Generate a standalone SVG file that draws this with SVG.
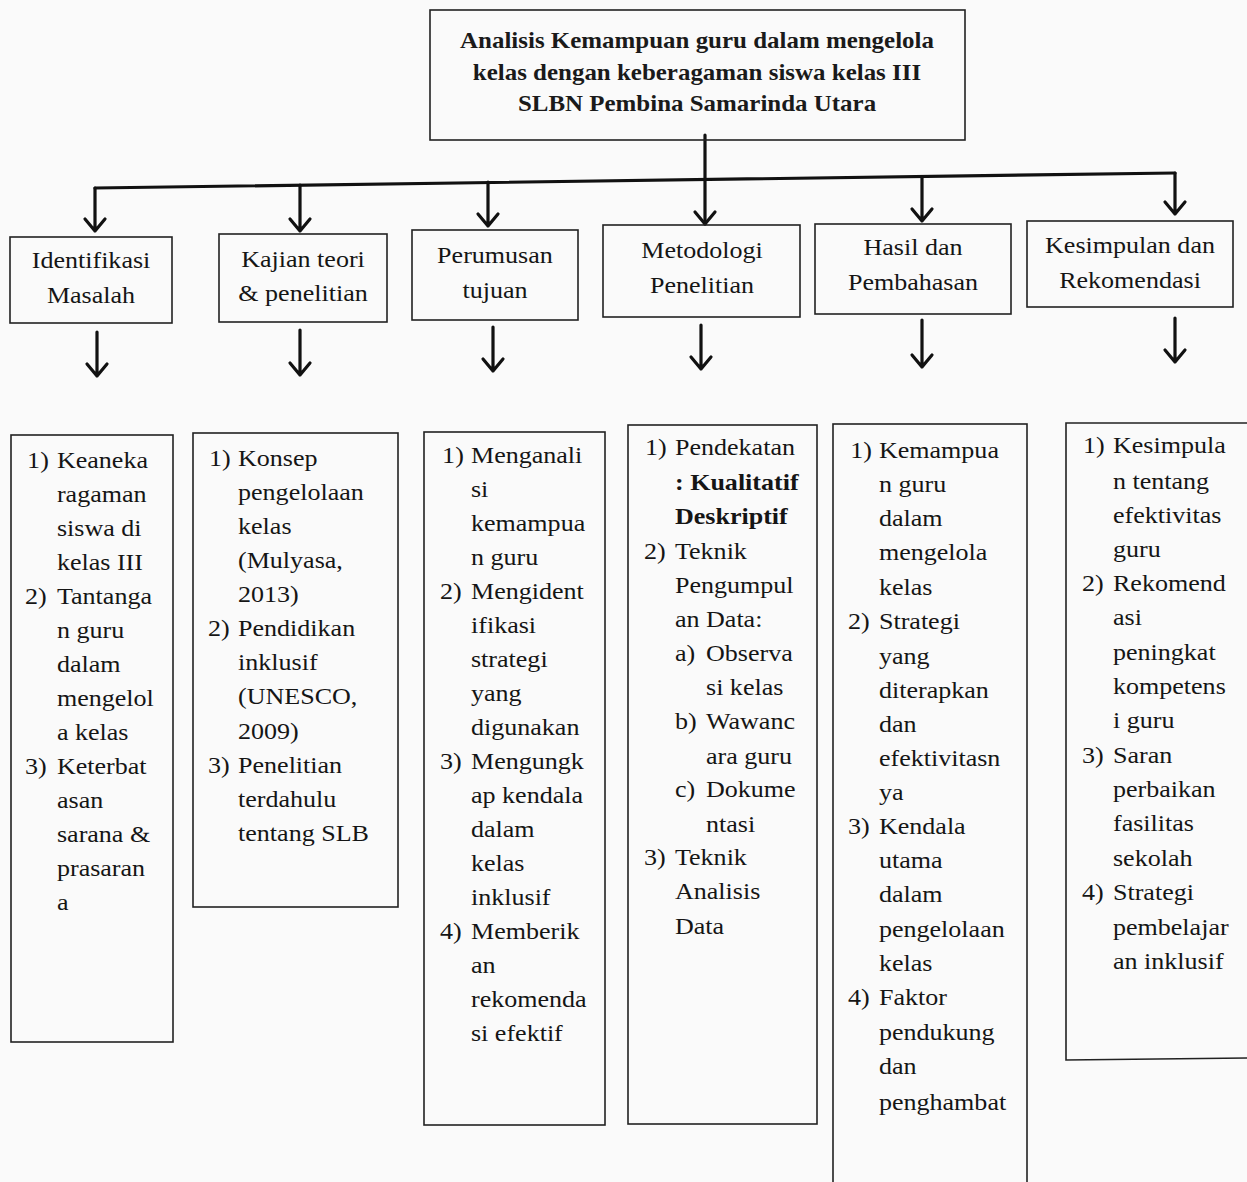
<svg xmlns="http://www.w3.org/2000/svg" width="1247" height="1182" viewBox="0 0 1247 1182">
<style>
.box{fill:none;stroke:#222;stroke-width:1.6}
.t{font-family:"Liberation Serif","Times New Roman",serif;font-size:24px;fill:#151515}
.h{font-family:"Liberation Serif","Times New Roman",serif;font-size:24px;fill:#151515;text-anchor:middle}
.top{font-family:"Liberation Serif","Times New Roman",serif;font-size:23px;font-weight:bold;fill:#1a1a1a;text-anchor:middle}
.b{font-weight:bold}
.c{fill:none;stroke:#111;stroke-width:3.2;stroke-linecap:round;stroke-linejoin:round}
</style>
<rect width="1247" height="1182" fill="#fafafa"/>

<g id="connectors">
<path class="c" d="M705 135 L705 224"/>
<path class="c" d="M95 188 L1175 173"/>
<path class="c" d="M95 188 L95 231 M85 219 L95 231 L105 219"/>
<path class="c" d="M300 185 L300 231 M290 219 L300 231 L310 219"/>
<path class="c" d="M488 182 L488 226 M478 214 L488 226 L498 214"/>
<path class="c" d="M695 212 L705 224 L715 212"/>
<path class="c" d="M922 177 L922 221 M912 209 L922 221 L932 209"/>
<path class="c" d="M1175 173 L1175 214 M1165 202 L1175 214 L1185 202"/>
<path class="c" d="M97 332 L97 376 M87 364 L97 376 L107 364"/>
<path class="c" d="M300 330 L300 375 M290 363 L300 375 L310 363"/>
<path class="c" d="M493 327 L493 371 M483 359 L493 371 L503 359"/>
<path class="c" d="M701 325 L701 369 M691 357 L701 369 L711 357"/>
<path class="c" d="M922 320 L922 367 M912 355 L922 367 L932 355"/>
<path class="c" d="M1175 318 L1175 362 M1165 350 L1175 362 L1185 350"/>
</g>

<g id="title">
<rect class="box" x="430" y="10" width="535" height="130"/>
<g transform="scale(1.085 1)">
<text class="top" x="642.4" y="48">Analisis Kemampuan guru dalam mengelola</text>
<text class="top" x="642.4" y="80">kelas dengan keberagaman siswa kelas III</text>
<text class="top" x="642.4" y="111">SLBN Pembina Samarinda Utara</text>
</g>
</g>

<g id="identifikasi">
<rect class="box" x="10" y="237" width="162" height="86"/>
<g transform="scale(1.085 1)">
<text class="h" x="83.9" y="268">Identifikasi</text>
<text class="h" x="83.9" y="303">Masalah</text>
</g>
</g>
<g id="kajian">
<rect class="box" x="219" y="234" width="168" height="88"/>
<g transform="scale(1.085 1)">
<text class="h" x="279.3" y="267">Kajian teori</text>
<text class="h" x="279.3" y="301">&amp; penelitian</text>
</g>
</g>
<g id="perumusan">
<rect class="box" x="412" y="230" width="166" height="90"/>
<g transform="scale(1.085 1)">
<text class="h" x="456.2" y="263">Perumusan</text>
<text class="h" x="456.2" y="298">tujuan</text>
</g>
</g>
<g id="metodologi">
<rect class="box" x="603" y="225" width="197" height="92"/>
<g transform="scale(1.085 1)">
<text class="h" x="647" y="258">Metodologi</text>
<text class="h" x="647" y="293">Penelitian</text>
</g>
</g>
<g id="hasil">
<rect class="box" x="815" y="224" width="196" height="90"/>
<g transform="scale(1.085 1)">
<text class="h" x="841.5" y="255">Hasil dan</text>
<text class="h" x="841.5" y="290">Pembahasan</text>
</g>
</g>
<g id="kesimpulan">
<rect class="box" x="1027" y="221" width="206" height="86"/>
<g transform="scale(1.085 1)">
<text class="h" x="1041.5" y="253">Kesimpulan dan</text>
<text class="h" x="1041.5" y="288">Rekomendasi</text>
</g>
</g>

<g id="list-identifikasi">
<rect class="box" x="11" y="435" width="162" height="607"/>
<g transform="scale(1.085 1)">
<text class="t" x="25" y="468">1)</text><text class="t" x="52.5" y="468">Keaneka</text>
<text class="t" x="52.5" y="502">ragaman</text>
<text class="t" x="52.5" y="536">siswa di</text>
<text class="t" x="52.5" y="570">kelas III</text>
<text class="t" x="23" y="604">2)</text><text class="t" x="52.5" y="604">Tantanga</text>
<text class="t" x="52.5" y="638">n guru</text>
<text class="t" x="52.5" y="672">dalam</text>
<text class="t" x="52.5" y="706">mengelol</text>
<text class="t" x="52.5" y="740">a kelas</text>
<text class="t" x="23" y="774">3)</text><text class="t" x="52.5" y="774">Keterbat</text>
<text class="t" x="52.5" y="808">asan</text>
<text class="t" x="52.5" y="842">sarana &amp;</text>
<text class="t" x="52.5" y="876">prasaran</text>
<text class="t" x="52.5" y="910">a</text>
</g>
</g>

<g id="list-kajian">
<rect class="box" x="193" y="433" width="205" height="474"/>
<g transform="scale(1.085 1)">
<text class="t" x="192.6" y="466">1)</text><text class="t" x="219.4" y="466">Konsep</text>
<text class="t" x="219.4" y="500">pengelolaan</text>
<text class="t" x="219.4" y="534">kelas</text>
<text class="t" x="219.4" y="568">(Mulyasa,</text>
<text class="t" x="219.4" y="602">2013)</text>
<text class="t" x="191.7" y="636">2)</text><text class="t" x="219.4" y="636">Pendidikan</text>
<text class="t" x="219.4" y="670">inklusif</text>
<text class="t" x="219.4" y="704">(UNESCO,</text>
<text class="t" x="219.4" y="739">2009)</text>
<text class="t" x="191.7" y="773">3)</text><text class="t" x="219.4" y="773">Penelitian</text>
<text class="t" x="219.4" y="807">terdahulu</text>
<text class="t" x="219.4" y="841">tentang SLB</text>
</g>
</g>

<g id="list-perumusan">
<rect class="box" x="424" y="432" width="181" height="693"/>
<g transform="scale(1.085 1)">
<text class="t" x="407.5" y="463">1)</text><text class="t" x="434.1" y="463">Menganali</text>
<text class="t" x="434.1" y="497">si</text>
<text class="t" x="434.1" y="531">kemampua</text>
<text class="t" x="434.1" y="565">n guru</text>
<text class="t" x="405.5" y="599">2)</text><text class="t" x="434.1" y="599">Mengident</text>
<text class="t" x="434.1" y="633">ifikasi</text>
<text class="t" x="434.1" y="667">strategi</text>
<text class="t" x="434.1" y="701">yang</text>
<text class="t" x="434.1" y="735">digunakan</text>
<text class="t" x="405.5" y="769">3)</text><text class="t" x="434.1" y="769">Mengungk</text>
<text class="t" x="434.1" y="803">ap kendala</text>
<text class="t" x="434.1" y="837">dalam</text>
<text class="t" x="434.1" y="871">kelas</text>
<text class="t" x="434.1" y="905">inklusif</text>
<text class="t" x="405.5" y="939">4)</text><text class="t" x="434.1" y="939">Memberik</text>
<text class="t" x="434.1" y="973">an</text>
<text class="t" x="434.1" y="1007">rekomenda</text>
<text class="t" x="434.1" y="1041">si efektif</text>
</g>
</g>

<g id="list-metodologi">
<rect class="box" x="628" y="425" width="189" height="699"/>
<g transform="scale(1.085 1)">
<text class="t" x="594.5" y="455">1)</text><text class="t" x="622.1" y="455">Pendekatan</text>
<text class="t b" x="622.1" y="490">: Kualitatif</text>
<text class="t b" x="622.1" y="524">Deskriptif</text>
<text class="t" x="593.5" y="559">2)</text><text class="t" x="622.1" y="559">Teknik</text>
<text class="t" x="622.1" y="593">Pengumpul</text>
<text class="t" x="622.1" y="627">an Data:</text>
<text class="t" x="622.1" y="661">a)</text><text class="t" x="650.7" y="661">Observa</text>
<text class="t" x="650.7" y="695">si kelas</text>
<text class="t" x="622.1" y="729">b)</text><text class="t" x="650.7" y="729">Wawanc</text>
<text class="t" x="650.7" y="764">ara guru</text>
<text class="t" x="622.1" y="797">c)</text><text class="t" x="650.7" y="797">Dokume</text>
<text class="t" x="650.7" y="832">ntasi</text>
<text class="t" x="593.5" y="865">3)</text><text class="t" x="622.1" y="865">Teknik</text>
<text class="t" x="622.1" y="899">Analisis</text>
<text class="t" x="622.1" y="934">Data</text>
</g>
</g>

<g id="list-hasil">
<rect class="box" x="833" y="424" width="194" height="770"/>
<g transform="scale(1.085 1)">
<text class="t" x="783.6" y="458">1)</text><text class="t" x="810.1" y="458">Kemampua</text>
<text class="t" x="810.1" y="492">n guru</text>
<text class="t" x="810.1" y="526">dalam</text>
<text class="t" x="810.1" y="560">mengelola</text>
<text class="t" x="810.1" y="595">kelas</text>
<text class="t" x="781.6" y="629">2)</text><text class="t" x="810.1" y="629">Strategi</text>
<text class="t" x="810.1" y="664">yang</text>
<text class="t" x="810.1" y="698">diterapkan</text>
<text class="t" x="810.1" y="732">dan</text>
<text class="t" x="810.1" y="766">efektivitasn</text>
<text class="t" x="810.1" y="800">ya</text>
<text class="t" x="781.6" y="834">3)</text><text class="t" x="810.1" y="834">Kendala</text>
<text class="t" x="810.1" y="868">utama</text>
<text class="t" x="810.1" y="902">dalam</text>
<text class="t" x="810.1" y="937">pengelolaan</text>
<text class="t" x="810.1" y="971">kelas</text>
<text class="t" x="781.6" y="1005">4)</text><text class="t" x="810.1" y="1005">Faktor</text>
<text class="t" x="810.1" y="1040">pendukung</text>
<text class="t" x="810.1" y="1074">dan</text>
<text class="t" x="810.1" y="1110">penghambat</text>
</g>
</g>

<g id="list-kesimpulan">
<path class="box" d="M1247 423 L1066 423 L1066 1060 L1247 1058"/>
<g transform="scale(1.085 1)">
<text class="t" x="998.2" y="453">1)</text><text class="t" x="1025.8" y="453">Kesimpula</text>
<text class="t" x="1025.8" y="489">n tentang</text>
<text class="t" x="1025.8" y="523">efektivitas</text>
<text class="t" x="1025.8" y="557">guru</text>
<text class="t" x="997.2" y="591">2)</text><text class="t" x="1025.8" y="591">Rekomend</text>
<text class="t" x="1025.8" y="625">asi</text>
<text class="t" x="1025.8" y="660">peningkat</text>
<text class="t" x="1025.8" y="694">kompetens</text>
<text class="t" x="1025.8" y="728">i guru</text>
<text class="t" x="997.2" y="763">3)</text><text class="t" x="1025.8" y="763">Saran</text>
<text class="t" x="1025.8" y="797">perbaikan</text>
<text class="t" x="1025.8" y="831">fasilitas</text>
<text class="t" x="1025.8" y="866">sekolah</text>
<text class="t" x="997.2" y="900">4)</text><text class="t" x="1025.8" y="900">Strategi</text>
<text class="t" x="1025.8" y="935">pembelajar</text>
<text class="t" x="1025.8" y="969">an inklusif</text>
</g>
</g>
</svg>
